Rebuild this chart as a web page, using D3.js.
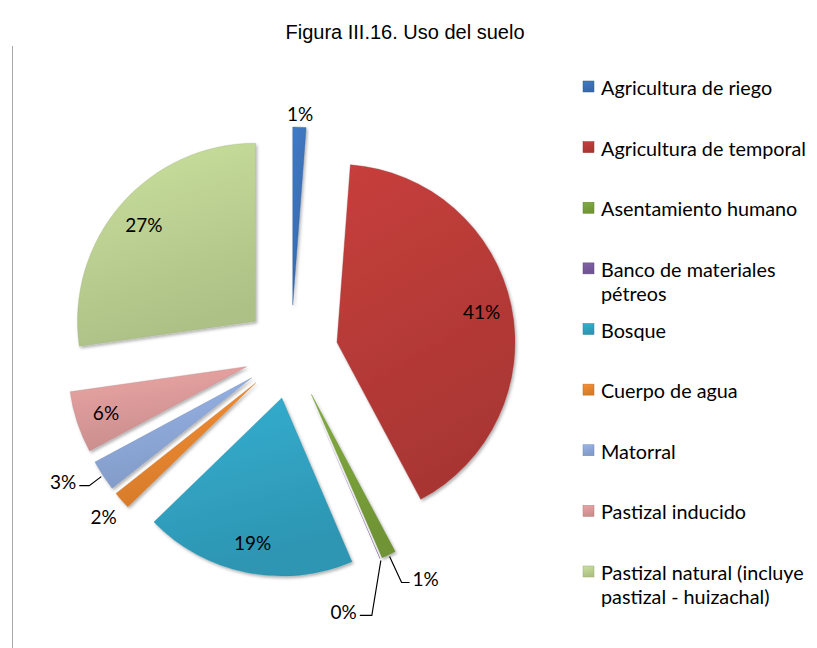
<!DOCTYPE html>
<html>
<head>
<meta charset="utf-8">
<script src="https://cdn.jsdelivr.net/npm/d3@7"></script>
<style>
  body { margin: 0; background: #fff; }
  svg { display: block; }
</style>
</head>
<body>
<div id="chart"></div>
<script>
// land use shares (%)
const categories = [
    "Agricultura de riego",
    "Agricultura de temporal",
    "Asentamiento humano",
    "Banco de materiales pétreos",
    "Bosque",
    "Cuerpo de agua",
    "Matorral",
    "Pastizal inducido",
    "Pastizal natural (incluye pastizal - huizachal)"
];
const values = [1.2, 41.0, 1.3, 0.05, 19.2, 1.6, 2.8, 5.6, 27.25];
const colors = ["#3d72b8", "#b93b38", "#7aa23a", "#7a5b9e", "#31a3c3",
                "#e9862f", "#8ea9da", "#dc9b9a", "#bdd293"];
const title = "Figura III.16. Uso del suelo";

// where each percentage goes: inside the slice, just outside, or with a leader line
const labelMode = ["out", "in", "leader", "leader", "in", "out", "leader", "in", "in"];
// leader line bend [dx, dy, horizontal run] from the slice tip
const leaderBend = [null, null, [12, 26, 8], [-9, 55, -12], null, null, [-12, 9, -10], null, null];

const width = 817, height = 648;
const radius = 178, explode = 47;
const cx = 291, cy = 352;
const labelFont = "Lato, 'Open Sans', sans-serif";

const svg = d3.select("#chart")
    .append("svg")
    .attr("width", width)
    .attr("height", height);

const defs = svg.append("defs");

// soft drop shadow for the bevelled slices
const shadow = defs.append("filter")
    .attr("id", "shadow")
    .attr("x", "-20%").attr("y", "-20%")
    .attr("width", "140%").attr("height", "140%");
shadow.append("feDropShadow")
    .attr("dx", 1.5).attr("dy", 2)
    .attr("stdDeviation", 1.6)
    .attr("flood-color", "#000")
    .attr("flood-opacity", 0.3);

colors.forEach((c, i) => {
    const g = defs.append("linearGradient")
        .attr("id", "grad" + i)
        .attr("x1", 0).attr("y1", 0).attr("x2", 0.3).attr("y2", 1);
    g.append("stop").attr("offset", "0%").attr("stop-color", d3.color(c).brighter(0.2));
    g.append("stop").attr("offset", "45%").attr("stop-color", c);
    g.append("stop").attr("offset", "100%").attr("stop-color", d3.color(c).darker(0.25));
});

// left frame line
svg.append("line")
    .attr("x1", 12.5).attr("x2", 12.5)
    .attr("y1", 46).attr("y2", height)
    .attr("stroke", "#a8a8a8")
    .attr("stroke-width", 1);

svg.append("text")
    .attr("x", 405)
    .attr("y", 39)
    .attr("text-anchor", "middle")
    .style("font-family", "'Liberation Sans', Arial, sans-serif")
    .style("font-size", "20px")
    .text(title);

const data = categories.map((name, i) => ({ name, value: values[i], i }));

const pie = d3.pie()
    .sort(null)
    .value(d => d.value);

const arcs = pie(data);
const arc = d3.arc().innerRadius(0).outerRadius(radius);

const mid = d => (d.startAngle + d.endAngle) / 2;
const dir = d => [Math.sin(mid(d)), -Math.cos(mid(d))];

const pieG = svg.append("g")
    .attr("transform", `translate(${cx},${cy})`);

const slices = pieG.selectAll("g.slice")
    .data(arcs)
    .enter().append("g")
    .attr("class", "slice")
    .attr("transform", d => {
        const [ux, uy] = dir(d);
        return `translate(${ux * explode},${uy * explode})`;
    });

slices.append("path")
    .attr("d", arc)
    .attr("fill", d => `url(#grad${d.data.i})`)
    .attr("stroke", d => d.value < 0.5 ? "none" : d3.color(colors[d.data.i]).darker(0.5))
    .attr("stroke-opacity", 0.45)
    .attr("stroke-width", 0.8)
    .attr("filter", "url(#shadow)");

// percentage labels
const pct = d => Math.round(d.value) + "%";
const inArc = d3.arc().innerRadius(radius * 0.83).outerRadius(radius * 0.83);

arcs.forEach(d => {
    const mode = labelMode[d.data.i];
    const [ux, uy] = dir(d);
    const ox = ux * explode, oy = uy * explode;
    if (mode === "in") {
        const [lx, ly] = inArc.centroid(d);
        pieG.append("text")
            .attr("x", ox + lx).attr("y", oy + ly)
            .attr("text-anchor", "middle")
            .attr("dominant-baseline", "central")
            .style("font-family", labelFont)
            .style("font-size", "19px")
            .text(pct(d.data));
    } else if (mode === "out") {
        const pad = d.data.i === 0 ? 14 : 24;
        pieG.append("text")
            .attr("x", ox + ux * (radius + pad))
            .attr("y", oy + uy * (radius + pad))
            .attr("text-anchor", "middle")
            .attr("dominant-baseline", "central")
            .style("font-family", labelFont)
            .style("font-size", "19px")
            .text(pct(d.data));
    } else {
        const [bx, by, run] = leaderBend[d.data.i];
        const sx = ox + ux * (radius + 2), sy = oy + uy * (radius + 2);
        const ex = sx + bx, ey = sy + by;
        pieG.append("path")
            .attr("d", d3.line()([[sx, sy], [ex, ey], [ex + run, ey]]))
            .attr("fill", "none")
            .attr("stroke", "#000")
            .attr("stroke-width", 1.2);
        pieG.append("text")
            .attr("x", ex + run + (run > 0 ? 3 : -3))
            .attr("y", ey - 4)
            .attr("text-anchor", run > 0 ? "start" : "end")
            .attr("dominant-baseline", "central")
            .style("font-family", labelFont)
            .style("font-size", "19px")
            .text(pct(d.data));
    }
});

// legend
const rowY = d3.scaleLinear().domain([0, categories.length - 1]).range([87, 572]);
const legend = svg.append("g").attr("class", "legend");
const textX = 601, maxW = width - textX - 3;

categories.forEach((name, i) => {
    const y = rowY(i);
    legend.append("rect")
        .attr("x", 583).attr("y", y - 6)
        .attr("width", 11).attr("height", 11)
        .attr("fill", `url(#grad${i})`)
        .attr("stroke", d3.color(colors[i]).darker(0.6))
        .attr("stroke-width", 0.5);

    const t = legend.append("text")
        .attr("x", textX).attr("y", y)
        .attr("dominant-baseline", "central")
        .style("font-family", labelFont)
        .style("font-size", "19.8px");

    // simple word wrap
    const words = name.split(" ");
    let line = [];
    let tspan = t.append("tspan").attr("x", textX).attr("dy", 0);
    words.forEach(w => {
        line.push(w);
        tspan.text(line.join(" "));
        if (tspan.node().getComputedTextLength() > maxW && line.length > 1) {
            line.pop();
            tspan.text(line.join(" "));
            line = [w];
            tspan = t.append("tspan").attr("x", textX).attr("dy", 24).text(w);
        }
    });
});
</script>
</body>
</html>
